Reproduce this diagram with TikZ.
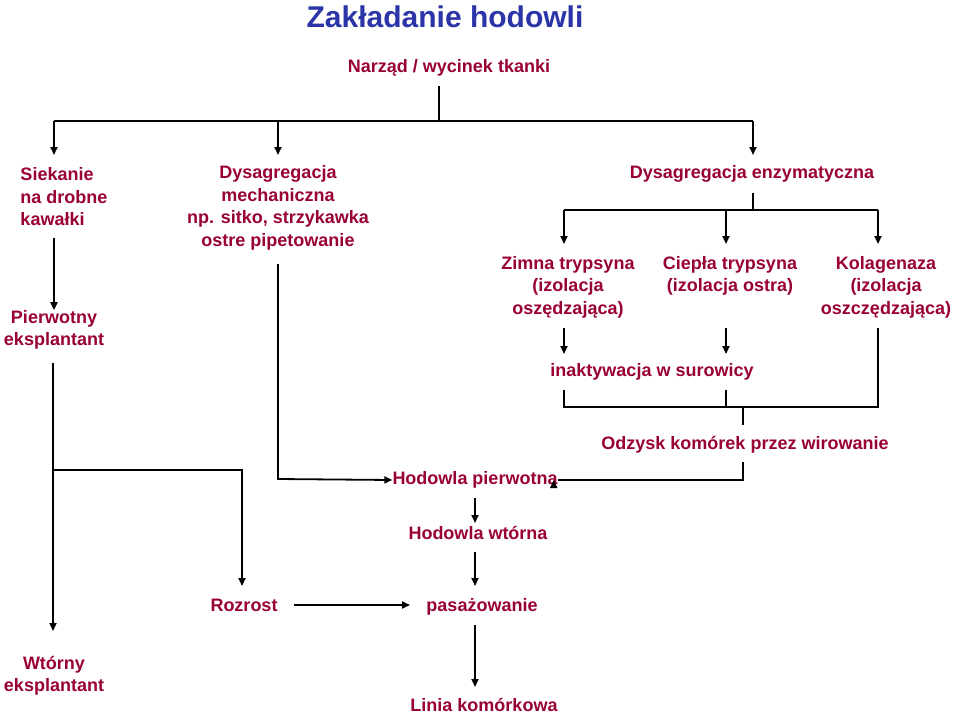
\documentclass[tikz,border=0pt]{standalone}
\usepackage{fontspec}
\setmainfont{Liberation Sans}
\usetikzlibrary{arrows.meta}
\definecolor{dred}{HTML}{990033}
\definecolor{tblue}{HTML}{2B35A8}
\begin{document}
\begin{tikzpicture}[x=1pt,y=-1pt,
  lbl/.style={text=dred,font=\fontsize{18}{22.5}\selectfont\bfseries,inner sep=0pt,align=center},
  ln/.style={line width=1.8pt},
  arr/.style={ln,-{Triangle[length=8pt,width=7pt]}}]
\useasboundingbox (0,0) rectangle (960,717);
\fill[white] (0,0) rectangle (960,717);
\node[text=tblue,font=\fontsize{30}{34}\selectfont\bfseries,inner sep=0pt] (title) at (445,17) {Zakładanie hodowli};
\node[lbl] (narz) at (449,68) {Narząd / wycinek tkanki};
\node[lbl,align=left] (siek) at (64,197) {Siekanie\\na drobne\\kawałki};
\node[lbl] (mech) at (278,208) {Dysagregacja\\mechaniczna\\np. sitko, strzykawka\\ostre pipetowanie};
\node[lbl] (enz) at (752,174) {Dysagregacja enzymatyczna};
\node[lbl] (pierw) at (54,330) {Pierwotny\\eksplantant};
\node[lbl] (zimna) at (568,287) {Zimna trypsyna\\(izolacja\\oszędzająca)};
\node[lbl] (ciepla) at (730,276) {Ciepła trypsyna\\(izolacja ostra)};
\node[lbl] (kolag) at (886,287) {Kolagenaza\\(izolacja\\oszczędzająca)};
\node[lbl] (inakt) at (652,372) {inaktywacja w surowicy};
\node[lbl] (odz) at (745,445) {Odzysk komórek przez wirowanie};
\node[lbl] (hp) at (475,480) {Hodowla pierwotna};
\node[lbl] (hw) at (478,533) {Hodowla wtórna};
\node[lbl] (roz) at (244,605) {Rozrost};
\node[lbl] (pas) at (482,607) {pasażowanie};
\node[lbl] (lin) at (484,705) {Linia komórkowa};
\node[lbl] (wtor) at (54,676) {Wtórny\\eksplantant};
% coordinates
\coordinate (t0) at (439,86);
\coordinate (t1) at (439,121);
\coordinate (hl) at (54,121);
\coordinate (hm) at (278,121);
\coordinate (hr) at (753,121);
\coordinate (a1) at (54,155);
\coordinate (a2) at (278,155);
\coordinate (a3) at (753,155);
\draw[ln] (t0) -- (t1);
\draw[ln] (hl) -- (hr);
\draw[arr] (hl) -- (a1);
\draw[arr] (hm) -- (a2);
\draw[arr] (hr) -- (a3);
% enzymatic
\coordinate (e0) at (753,193);
\coordinate (e1) at (753,210);
\coordinate (el) at (564,210);
\coordinate (ec) at (726,210);
\coordinate (er) at (878,210);
\draw[ln] (e0) -- (e1);
\draw[ln] (el) -- (er);
\draw[arr] (el) -- (564,244);
\draw[arr] (ec) -- (726,244);
\draw[arr] (er) -- (878,244);
\draw[arr] (564,328) -- (564,354);
\draw[arr] (726,328) -- (726,354);
\coordinate (b1) at (564,407);
\coordinate (b3) at (878,407);
\draw[ln] (564,390) -- (b1) -- (b3) -- (878,328);
\draw[ln] (726,390) -- (726,407);
\draw[ln] (743,407) -- (743,425);
\coordinate (o1) at (743,480);
\draw[arr] (743,462) -- (o1) -- (hp.east) ++(-4,0);
% Siekanie
\draw[arr] (54,238) -- (pierw.north);
% mechanical
\coordinate (m1) at (278,479);
\draw[arr] (278,264) -- (m1) -- (hp.west);
% left long
\coordinate (l0) at (53,363);
\coordinate (l1) at (53,470);
\coordinate (l2) at (242,470);
\draw[arr] (l0) -- (53,631);
\draw[arr] (l1) -- (l2) -- (242,586);
% bottom chain
\draw[arr] (475,498) -- (475,523);
\draw[arr] (475,552) -- (475,586);
\draw[arr] (475,625) -- (475,687);
\draw[arr] (roz.east) ++(16,0) -- (410,605);
\end{tikzpicture}
\end{document}
